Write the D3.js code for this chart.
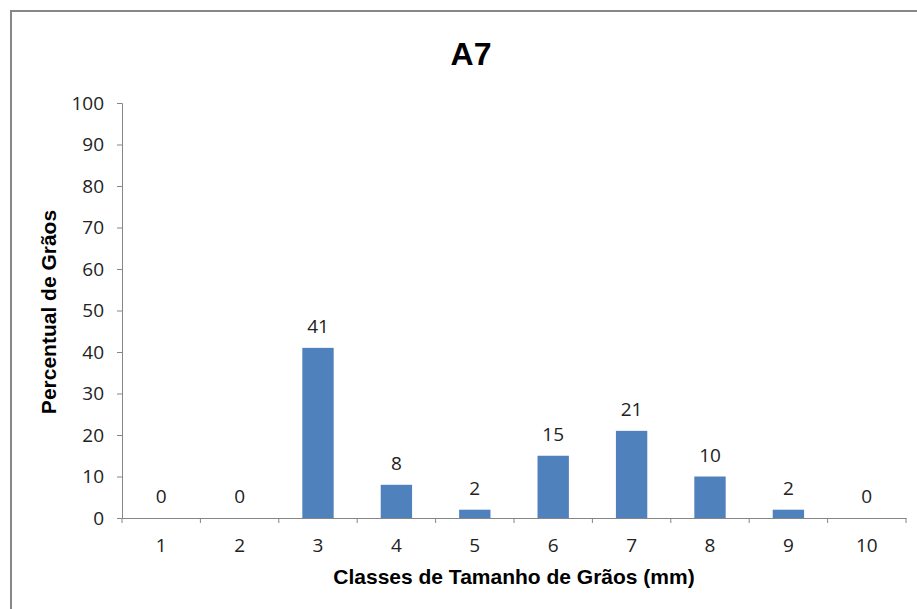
<!DOCTYPE html>
<html>
<head>
<meta charset="utf-8">
<script src="https://cdn.jsdelivr.net/npm/d3@7"></script>
<style>
  body { margin: 0; background: #fff; }
  svg { display: block; }
  .tick text { font-family: "Open Sans", sans-serif; font-size: 19px; fill: #222; }
</style>
</head>
<body>
<svg id="chart"></svg>
<script>
// chart data
const classes = ["1", "2", "3", "4", "5", "6", "7", "8", "9", "10"];
const percents = [0, 0, 41, 8, 2, 15, 21, 10, 2, 0];
const yTicks = [0, 10, 20, 30, 40, 50, 60, 70, 80, 90, 100];

const width = 917, height = 609;
const margin = { top: 103, right: 11, bottom: 91, left: 122 };
const innerW = width - margin.left - margin.right;
const innerH = height - margin.top - margin.bottom;

const svg = d3.select('#chart')
  .attr('width', width)
  .attr('height', height);

// outer frame
svg.append('path')
  .attr('d', `M11,${height} L11,11 L${width},11`)
  .attr('fill', 'none')
  .attr('stroke', '#878787')
  .attr('stroke-width', 2);

const chart = svg.append('g')
  .attr('transform', `translate(${margin.left},${margin.top})`);

const xScale = d3.scaleBand()
  .domain(classes)
  .range([0, innerW])
  .paddingInner(0.6)
  .paddingOuter(0.3);

const xBands = d3.scaleBand()
  .domain(classes)
  .range([0, innerW]);

const yScale = d3.scaleLinear()
  .domain([0, 100])
  .range([innerH, 0]);

// y axis
const yAxisG = chart.append('g')
  .call(d3.axisLeft(yScale).tickValues(yTicks).tickSizeOuter(0).tickSize(5).tickPadding(13));
yAxisG.selectAll('line, path').attr('stroke', '#868686');

// x axis: ticks at band boundaries
const xAxisG = chart.append('g')
  .attr('transform', `translate(0,${innerH})`)
  .call(d3.axisBottom(xBands).tickSize(0).tickPadding(21));
xAxisG.select('.domain').attr('stroke', '#868686');
const bounds = classes.map(c => xBands(c)).concat([innerW]);
xAxisG.selectAll('.bound')
  .data(bounds)
  .join('line')
  .attr('class', 'bound')
  .attr('x1', d => d).attr('x2', d => d)
  .attr('y1', 0).attr('y2', 5)
  .attr('stroke', '#868686');

// bars
chart.selectAll('.bar')
  .data(percents)
  .join('rect')
  .attr('class', 'bar')
  .attr('x', (d, i) => xScale(classes[i]))
  .attr('y', d => yScale(d))
  .attr('width', xScale.bandwidth())
  .attr('height', d => innerH - yScale(d))
  .attr('fill', '#4F81BD');

// value labels
chart.selectAll('.val')
  .data(percents)
  .join('text')
  .attr('class', 'val')
  .attr('x', (d, i) => xBands(classes[i]) + xBands.bandwidth() / 2)
  .attr('y', d => yScale(d) - 15)
  .attr('text-anchor', 'middle')
  .style('font-family', '"Open Sans", sans-serif')
  .style('font-size', '19px')
  .style('fill', '#222')
  .text(d => d);

// title
svg.append('text')
  .attr('x', 471)
  .attr('y', 65)
  .attr('text-anchor', 'middle')
  .style('font-family', '"Liberation Sans", Arial, sans-serif')
  .style('font-weight', 'bold')
  .style('font-size', '32px')
  .text('A7');

// axis titles
svg.append('text')
  .attr('x', margin.left + innerW / 2)
  .attr('y', 584)
  .attr('text-anchor', 'middle')
  .style('font-family', '"Liberation Sans", Arial, sans-serif')
  .style('font-weight', 'bold')
  .style('font-size', '21px')
  .text('Classes de Tamanho de Grãos (mm)');

svg.append('text')
  .attr('transform', `translate(56,312) rotate(-90)`)
  .attr('text-anchor', 'middle')
  .style('font-family', '"Liberation Sans", Arial, sans-serif')
  .style('font-weight', 'bold')
  .style('font-size', '21px')
  .text('Percentual de Grãos');
</script>
</body>
</html>
